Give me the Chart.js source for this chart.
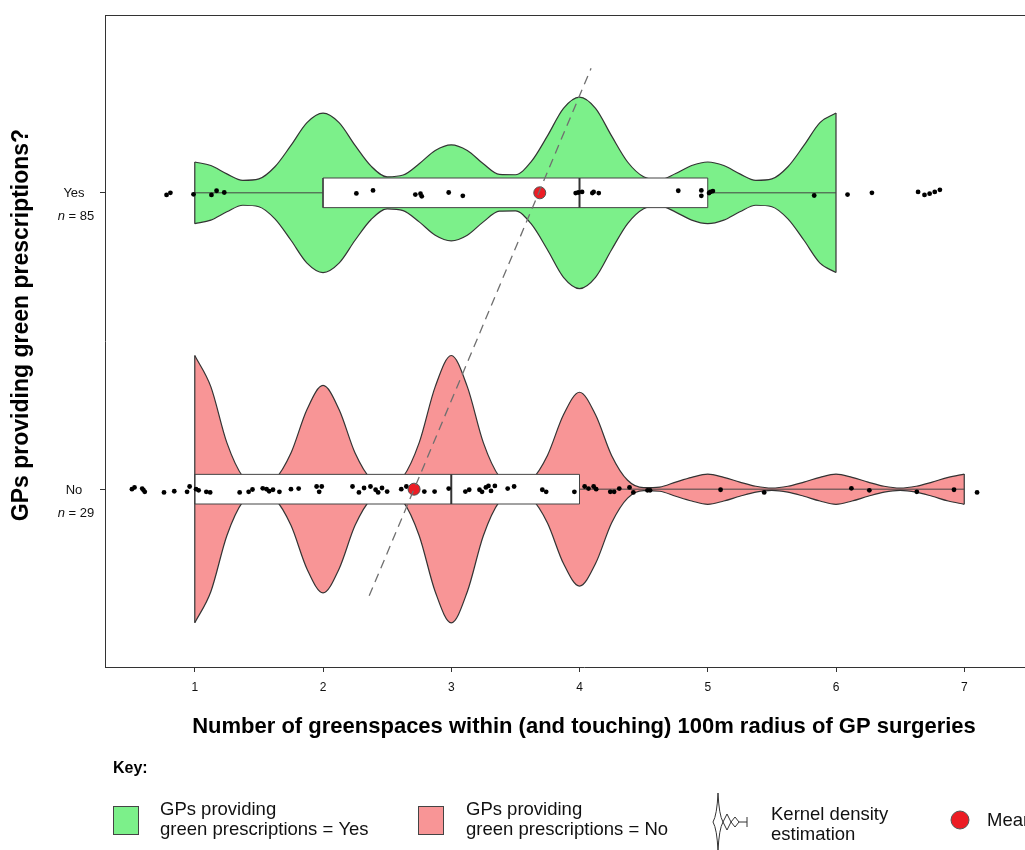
<!DOCTYPE html>
<html>
<head>
<meta charset="utf-8">
<script src="https://cdn.jsdelivr.net/npm/chart.js@4.4.1/dist/chart.umd.min.js"></script>
<style>
  html, body { margin: 0; padding: 0; overflow: hidden; background: #fff; }
  canvas { display: block; }
</style>
</head>
<body>
<canvas id="myChart" width="1070" height="850"></canvas>
<script>
const xTicks = [1, 2, 3, 4, 5, 6, 7];
const groups = ["No", "Yes"];
const groupN = [29, 85];
const groupPos = [1, 2];

// [whisker low, q1, median, q3, whisker high]
const noBox = [1, 1, 3, 4, 7];
const yesBox = [1, 2, 4, 5, 6];
const means = [2.71, 3.69]; // No, Yes

// violin half widths (kernel density)
const yesKdeX = [1, 1.125, 1.25, 1.375, 1.5, 1.625, 1.75, 1.875, 2,
  2.125, 2.25, 2.375, 2.5, 2.625, 2.75, 2.875, 3,
  3.125, 3.25, 3.375, 3.5, 3.625, 3.75, 3.875, 4,
  4.125, 4.25, 4.375, 4.5, 4.625, 4.75, 4.875, 5,
  5.125, 5.25, 5.375, 5.5, 5.625, 5.75, 5.875, 6];
const yesKde = [0.104, 0.092, 0.064, 0.042, 0.047, 0.088, 0.160, 0.237, 0.269,
  0.237, 0.160, 0.090, 0.054, 0.060, 0.098, 0.143, 0.162,
  0.143, 0.098, 0.062, 0.061, 0.106, 0.192, 0.285, 0.323,
  0.285, 0.192, 0.104, 0.054, 0.044, 0.065, 0.092, 0.104,
  0.092, 0.064, 0.042, 0.047, 0.088, 0.160, 0.237, 0.269];

const noKdeX = [1, 1.125, 1.25, 1.375, 1.5, 1.625, 1.75, 1.875, 2,
  2.125, 2.25, 2.375, 2.5, 2.625, 2.75, 2.875, 3,
  3.125, 3.25, 3.375, 3.5, 3.625, 3.75, 3.875, 4,
  4.125, 4.25, 4.375, 4.5, 4.625, 4.75, 4.875, 5,
  5.125, 5.25, 5.375, 5.5, 5.625, 5.75, 5.875, 6,
  6.125, 6.25, 6.375, 6.5, 6.625, 6.75, 6.875, 7];
const noKde = [0.451, 0.346, 0.157, 0.042, 0.012, 0.033, 0.122, 0.269, 0.350,
  0.269, 0.122, 0.033, 0.012, 0.042, 0.157, 0.346, 0.451,
  0.346, 0.157, 0.042, 0.011, 0.031, 0.114, 0.251, 0.327,
  0.251, 0.114, 0.030, 0.005, 0.007, 0.024, 0.040, 0.051,
  0.040, 0.024, 0.010, 0.004, 0.010, 0.024, 0.040, 0.051,
  0.040, 0.024, 0.010, 0.004, 0.010, 0.024, 0.040, 0.051];

// jittered observations
const yesJitterX = [0.78, 0.81, 0.99, 1.13, 1.17, 1.23, 2.26, 2.39, 2.72, 2.76, 2.77, 2.98, 3.09,
  3.97, 3.99, 4.02, 4.10, 4.11, 4.15, 4.77, 4.95, 4.95, 5.01, 5.02, 5.04, 5.83, 6.09, 6.28,
  6.64, 6.69, 6.73, 6.77, 6.81];
const yesJitterY = [-0.007, 0, -0.005, -0.007, 0.007, 0.001, -0.002, 0.008, -0.006, -0.003, -0.012, 0.001, -0.010,
  -0.001, 0.001, 0.003, -0.001, 0.003, -0.001, 0.007, 0.008, -0.010, -0.001, 0.003, 0.006, -0.009, -0.006, 0,
  0.003, -0.007, -0.003, 0.003, 0.010];

const noJitterX = [0.51, 0.53, 0.59, 0.60, 0.61, 0.76, 0.84, 0.94, 0.96, 1.01,
  1.03, 1.09, 1.12, 1.35, 1.42, 1.45, 1.53, 1.56, 1.58, 1.61,
  1.66, 1.75, 1.81, 1.95, 1.97, 1.99, 2.23, 2.28, 2.32, 2.37,
  2.41, 2.43, 2.46, 2.50, 2.61, 2.65, 2.79, 2.87, 2.98, 3.11,
  3.14, 3.22, 3.24, 3.27, 3.29, 3.31, 3.34, 3.44, 3.49, 3.71,
  3.74, 3.96, 4.04, 4.07, 4.11, 4.13, 4.24, 4.27, 4.31, 4.39,
  4.42, 4.53, 4.55, 5.10, 5.44, 6.12, 6.26, 6.63, 6.92, 7.10];
const noJitterY = [0, 0.006, 0.002, -0.003, -0.009, -0.011, -0.007, -0.009, 0.009, 0,
  -0.004, -0.009, -0.011, -0.011, -0.009, -0.001, 0.003, 0, -0.007, -0.002,
  -0.009, 0, 0.002, 0.009, -0.009, 0.009, 0.009, -0.011, 0.004, 0.009,
  -0.002, -0.011, 0.004, -0.008, 0, 0.009, -0.008, -0.008, 0.002, -0.008,
  -0.002, -0.002, -0.009, 0.006, 0.011, -0.006, 0.011, 0.002, 0.009, -0.002,
  -0.009, -0.009, 0.009, 0.002, 0.009, 0, -0.009, -0.009, 0.002, 0.006,
  -0.011, -0.004, -0.004, -0.002, -0.011, 0.003, -0.004, -0.009, -0.002, -0.011];

// dashed line through the two means
const meanLineX = [2.36, 4.09];
const meanLineY = [0.64, 2.42];

const green = "#7cf08a";
const pink = "#f89596";
const outline = "#333333";
const FONT = '"Liberation Sans", Arial, Helvetica, sans-serif';
const BOX_H = 0.05;

function seg(data, extra) {
  return Object.assign({
    type: "line",
    data: data,
    borderColor: outline,
    borderWidth: 1,
    pointRadius: 0,
    fill: false,
    tension: 0,
  }, extra || {});
}

function edge(xs, ws, c, sign) {
  return xs.map((x, i) => ({ x: x, y: c + sign * ws[i] }));
}

function violin(xs, ws, c, color) {
  const last = xs.length - 1;
  return [
    seg([{ x: xs[0], y: c - ws[0] }, { x: xs[0], y: c + ws[0] }], { borderWidth: 1.2 }),
    seg([{ x: xs[last], y: c - ws[last] }, { x: xs[last], y: c + ws[last] }], { borderWidth: 1.2 }),
    seg(edge(xs, ws, c, -1), { cubicInterpolationMode: "monotone", borderWidth: 1.2 }),
    seg(edge(xs, ws, c, 1), {
      cubicInterpolationMode: "monotone",
      borderWidth: 1.2,
      fill: "-1",
      backgroundColor: color,
    }),
  ];
}

function box(stats, c) {
  return [
    seg([
      { x: stats[1], y: c - BOX_H }, { x: stats[3], y: c - BOX_H },
      { x: stats[3], y: c + BOX_H }, { x: stats[1], y: c + BOX_H },
      { x: stats[1], y: c - BOX_H },
    ], { borderColor: "#444" }),
    seg([{ x: stats[1], y: c + BOX_H }, { x: stats[3], y: c + BOX_H }], {
      borderWidth: 0,
      fill: { value: c - BOX_H },
      backgroundColor: "#ffffff",
    }),
  ];
}

const jitterPoints = yesJitterX.map((x, i) => ({ x: x, y: groupPos[1] + yesJitterY[i] }))
  .concat(noJitterX.map((x, i) => ({ x: x, y: groupPos[0] + noJitterY[i] })));

const datasets = [
  seg([{ x: meanLineX[0], y: meanLineY[0] }, { x: meanLineX[1], y: meanLineY[1] }], {
    borderColor: "#6f6f6f",
    borderWidth: 1.3,
    borderDash: [9, 6],
  }),
  {
    type: "line",
    showLine: false,
    data: means.map((m, i) => ({ x: m, y: groupPos[i] })),
    pointRadius: 6,
    pointBackgroundColor: "#ec1c24",
    pointBorderColor: "#555",
    pointBorderWidth: 1,
  },
  {
    type: "line",
    showLine: false,
    data: jitterPoints,
    pointRadius: 2.4,
    pointBackgroundColor: "#000",
    pointBorderWidth: 0,
  },
  seg([{ x: yesBox[2], y: groupPos[1] - BOX_H }, { x: yesBox[2], y: groupPos[1] + BOX_H }], { borderWidth: 2 }),
  seg([{ x: noBox[2], y: groupPos[0] - BOX_H }, { x: noBox[2], y: groupPos[0] + BOX_H }], { borderWidth: 2 }),
  ...box(yesBox, groupPos[1]),
  ...box(noBox, groupPos[0]),
  seg([{ x: yesBox[0], y: groupPos[1] }, { x: yesBox[4], y: groupPos[1] }], { borderColor: "#444" }),
  seg([{ x: noBox[0], y: groupPos[0] }, { x: noBox[4], y: groupPos[0] }], { borderColor: "#444" }),
  ...violin(yesKdeX, yesKde, groupPos[1], green),
  ...violin(noKdeX, noKde, groupPos[0], pink),
];

function writeLines(ctx, lines, x, y, gap) {
  lines.forEach((t, i) => ctx.fillText(t, x, y + i * gap));
}

const decor = {
  id: "decor",
  afterDraw(chart) {
    const { ctx, chartArea, scales } = chart;
    ctx.save();

    // top frame line
    ctx.strokeStyle = outline;
    ctx.lineWidth = 1;
    ctx.beginPath();
    ctx.moveTo(chartArea.left, chartArea.top + 0.5);
    ctx.lineTo(chartArea.right, chartArea.top + 0.5);
    ctx.stroke();

    // group labels with n
    ctx.fillStyle = "#111";
    ctx.textBaseline = "middle";
    groups.forEach((g, i) => {
      const y = scales.y.getPixelForValue(groupPos[i]);
      const cx = chartArea.left - 30;
      ctx.textAlign = "center";
      ctx.font = "13px " + FONT;
      ctx.fillText(g, cx - 1, y + 1);
      const rest = " = " + groupN[i];
      ctx.font = "italic 13px " + FONT;
      const wN = ctx.measureText("n").width;
      ctx.font = "13px " + FONT;
      const wR = ctx.measureText(rest).width;
      const x0 = cx + 1 - (wN + wR) / 2;
      ctx.textAlign = "left";
      ctx.font = "italic 13px " + FONT;
      ctx.fillText("n", x0, y + 24);
      ctx.font = "13px " + FONT;
      ctx.fillText(rest, x0 + wN, y + 24);
    });

    // axis titles
    ctx.fillStyle = "#000";
    ctx.font = "bold 22px " + FONT;
    ctx.textAlign = "center";
    ctx.fillText("Number of greenspaces within (and touching) 100m radius of GP surgeries",
      (chartArea.left + chartArea.right) / 2, 727);
    ctx.save();
    ctx.translate(22, 325);
    ctx.rotate(-Math.PI / 2);
    ctx.font = "bold 23px " + FONT;
    ctx.fillText("GPs providing green prescriptions?", 0, 0);
    ctx.restore();

    // key
    ctx.textAlign = "left";
    ctx.font = "bold 16px " + FONT;
    ctx.fillText("Key:", 113, 769);

    ctx.lineWidth = 1;
    ctx.strokeStyle = "#444";
    ctx.fillStyle = green;
    ctx.fillRect(113.5, 806.5, 25, 28);
    ctx.strokeRect(113.5, 806.5, 25, 28);
    ctx.fillStyle = pink;
    ctx.fillRect(418.5, 806.5, 25, 28);
    ctx.strokeRect(418.5, 806.5, 25, 28);

    ctx.fillStyle = "#111";
    ctx.font = "18.5px " + FONT;
    writeLines(ctx, ["GPs providing", "green prescriptions = Yes"], 160, 810, 20);
    writeLines(ctx, ["GPs providing", "green prescriptions = No"], 466, 810, 20);
    writeLines(ctx, ["Kernel density", "estimation"], 771, 815, 20);
    ctx.fillText("Mean", 987, 821);

    // kernel density glyph
    ctx.strokeStyle = "#333";
    ctx.lineWidth = 1;
    const gy = 822;
    ctx.beginPath();
    ctx.moveTo(718, 793);
    ctx.quadraticCurveTo(719, 815, 723, gy);
    ctx.quadraticCurveTo(719, 829, 718, 851);
    ctx.quadraticCurveTo(717, 829, 713, gy);
    ctx.quadraticCurveTo(717, 815, 718, 793);
    ctx.stroke();
    ctx.beginPath();
    ctx.moveTo(723, gy);
    ctx.lineTo(727, gy - 8);
    ctx.lineTo(731, gy);
    ctx.lineTo(727, gy + 8);
    ctx.closePath();
    ctx.moveTo(731, gy);
    ctx.lineTo(735, gy - 5);
    ctx.lineTo(739, gy);
    ctx.lineTo(735, gy + 5);
    ctx.closePath();
    ctx.moveTo(739, gy);
    ctx.lineTo(747, gy);
    ctx.moveTo(747, gy - 5);
    ctx.lineTo(747, gy + 5);
    ctx.stroke();

    // mean glyph
    ctx.beginPath();
    ctx.arc(960, 820, 9, 0, Math.PI * 2);
    ctx.fillStyle = "#ec1c24";
    ctx.fill();
    ctx.strokeStyle = "#555";
    ctx.stroke();

    ctx.restore();
  },
};

new Chart("myChart", {
  type: "line",
  data: { datasets: datasets },
  options: {
    responsive: false,
    animation: false,
    devicePixelRatio: 1,
    layout: { padding: { top: 15, right: 5, left: 0, bottom: 0 } },
    plugins: {
      legend: { display: false },
      tooltip: { enabled: false },
    },
    scales: {
      x: {
        type: "linear",
        min: 0.3,
        max: 7.77,
        offset: false,
        afterBuildTicks: (s) => { s.ticks = xTicks.map((v) => ({ value: v })); },
        afterFit: (s) => { s.height = 183; },
        grid: { drawOnChartArea: false, drawTicks: true, tickLength: 5, color: outline, offset: false },
        border: { display: true, color: outline, width: 1 },
        ticks: { color: "#111", font: { size: 12, family: FONT }, padding: 8, maxRotation: 0, autoSkip: false },
      },
      y: {
        type: "linear",
        min: 0.4,
        max: 2.6,
        offset: false,
        afterBuildTicks: (s) => { s.ticks = groupPos.map((v) => ({ value: v })); },
        afterFit: (s) => { s.width = 105; },
        grid: { drawOnChartArea: false, drawTicks: true, tickLength: 5, color: outline, offset: false },
        border: { display: true, color: outline, width: 1 },
        ticks: { display: false },
      },
    },
  },
  plugins: [decor],
});
</script>
</body>
</html>
